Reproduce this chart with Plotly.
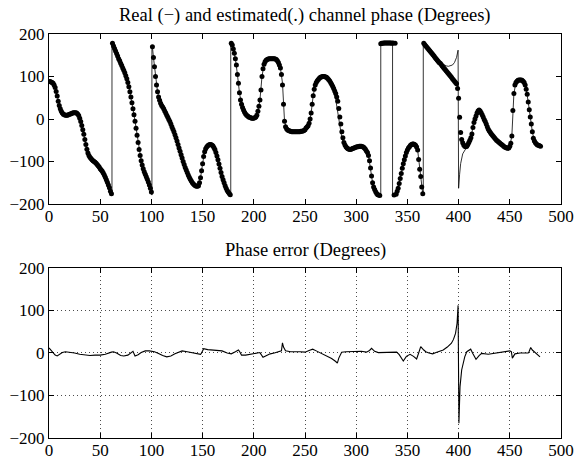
import plotly.graph_objects as go

# real channel phase (degrees) as (sample, value) points
real_pts = [
    (0, 88), (2, 87), (4, 84), (6, 74), (8, 54), (10, 32), (12, 18), (14, 11), (16, 9), (18, 9),
    (20, 11), (22, 13), (24, 15), (26, 15), (28, 12), (30, 2), (32, -15), (34, -36), (36, -60), (38, -80),
    (40, -90), (42, -96), (44, -100), (46, -104), (48, -110), (50, -117), (52, -123), (54, -132), (56, -143),
    (58, -155), (60, -170), (61, -176), (61.5, -178), (61.5, 179), (62, 178), (64, 166), (66, 154), (68, 142),
    (70, 131), (72, 120), (74, 109), (76, 95), (78, 76), (80, 52), (82, 24), (84, -5), (86, -38), (88, -72),
    (90, -98), (92, -117), (94, -130), (96, -142), (98, -155), (100, -172), (100.5, -179), (100.5, 172),
    (101, 170), (102, 145), (104, 100), (106, 64), (108, 44), (110, 32), (112, 24), (114, 14), (116, 4),
    (118, -6), (120, -18), (122, -30), (124, -44), (126, -60), (128, -76), (130, -92), (132, -107), (134, -120),
    (136, -132), (138, -142), (140, -150), (142, -155), (144, -158), (146, -157), (148, -138), (150, -105),
    (152, -77), (154, -66), (156, -61), (158, -60), (160, -63), (162, -72), (164, -87), (166, -106), (168, -126),
    (170, -143), (172, -157), (174, -168), (176, -175), (177, -178), (177.5, -179), (177.5, 179), (178, 178),
    (180, 165), (182, 142), (184, 105), (186, 62), (188, 35), (190, 21), (192, 12), (194, 7), (196, 4), (198, 2),
    (200, 2), (202, 5), (204, 18), (206, 45), (208, 100), (210, 129), (212, 138), (214, 141), (216, 142),
    (218, 142), (220, 142), (222, 140), (224, 133), (226, 120), (228, 85), (230, -5), (232, -23), (234, -27),
    (236, -29), (238, -30), (240, -30), (242, -30), (244, -30), (246, -29), (248, -28), (250, -25), (252, -19),
    (254, -10), (256, 14), (258, 55), (260, 80), (262, 90), (264, 96), (266, 99), (268, 100), (270, 98),
    (272, 94), (274, 86), (276, 76), (278, 64), (280, 46), (282, 18), (284, -15), (286, -45), (288, -60),
    (290, -67), (292, -70), (294, -72), (296, -70), (298, -68), (300, -66), (302, -65), (304, -64), (306, -65),
    (308, -68), (310, -75), (312, -86), (314, -115), (316, -150), (318, -166), (320, -175), (322, -179),
    (324, -180), (324, 180), (326, 180), (328, 180), (330, 180), (332, 180), (334, 180), (335.5, 180),
    (335.5, -180), (338, -176), (340, -170), (342, -152), (344, -128), (346, -105), (348, -87), (350, -73),
    (352, -65), (354, -60), (356, -59), (358, -62), (360, -73), (362, -118), (364, -160), (365, -176),
    (365.5, -179), (365.5, 179), (366, 178), (368, 172), (370, 166), (372, 161), (374, 156), (376, 150),
    (378, 145), (380, 139), (382, 134), (384, 130), (386, 127), (388, 125), (390, 124), (392, 125), (394, 127),
    (396, 133), (398, 145), (399.5, 162), (400, -163), (401, -130), (402, -105), (404, -82), (406, -72),
    (408, -66), (410, -56), (412, -44), (414, -20), (416, 0), (418, 14), (420, 21), (422, 15), (424, 5),
    (426, -6), (428, -18), (430, -28), (432, -35), (434, -41), (436, -47), (438, -52), (440, -56), (442, -60),
    (444, -64), (446, -67), (448, -69), (450, -64), (452, -40), (454, 60), (456, 86), (458, 91), (460, 92),
    (462, 92), (464, 86), (466, 70), (468, 40), (470, 5), (472, -30), (474, -52), (476, -59), (478, -62),
    (480, -64),
]

# estimated phase (degrees), one value per sample 0..480
est_deg = [
    88, 88, 87, 86, 84, 80, 74, 65, 54, 42,                 # 0
    32, 24, 18, 14, 11, 10, 9, 9, 9, 10,                    # 10
    11, 12, 13, 14, 15, 15, 15, 14, 12, 8,                  # 20
    2, -6, -15, -25, -36, -48, -60, -71, -80, -86,          # 30
    -90, -93, -96, -98, -100, -102, -104, -107, -110, -113,  # 40
    -117, -120, -123, -127, -132, -137, -143, -149, -155, -162,  # 50
    -170, -176, 178, 172, 166, 160, 154, 148, 142, 137,     # 60
    131, 126, 120, 115, 109, 102, 95, 86, 76, 64,           # 70
    52, 38, 24, 10, -5, -22, -38, -55, -72, -86,            # 80
    -98, -108, -117, -124, -130, -136, -142, -148, -155, -163,  # 90
    -172, 170, 145, 123, 100, 80, 64, 52, 44, 37,           # 100
    32, 28, 24, 19, 14, 9, 4, -1, -6, -12,                  # 110
    -18, -24, -30, -37, -44, -52, -60, -68, -76, -84,       # 120
    -92, -100, -107, -114, -120, -126, -132, -137, -142, -146,  # 130
    -150, -153, -155, -157, -158, -158, -157, -150, -138, -122,  # 140
    -105, -88, -77, -70, -66, -63, -61, -60, -60, -61,      # 150
    -63, -67, -72, -79, -87, -96, -106, -116, -126, -135,   # 160
    -143, -150, -157, -163, -168, -172, -175, -178, 178, 174,  # 170
    165, 155, 142, 127, 105, 84, 62, 45, 35, 27,            # 180
    21, 16, 12, 9, 7, 5, 4, 3, 2, 2,                        # 190
    2, 3, 5, 9, 18, 30, 45, 68, 100, 118,                   # 200
    129, 135, 138, 140, 141, 142, 142, 142, 142, 142,       # 210
    142, 141, 140, 137, 133, 127, 120, 105, 80, 35,         # 220
    -5, -18, -23, -26, -27, -28, -29, -30, -30, -30,        # 230
    -30, -30, -30, -30, -30, -30, -29, -29, -28, -27,       # 240
    -25, -21, -19, -16, -10, 0, 14, 35, 55, 70,             # 250
    80, 86, 90, 93, 96, 98, 99, 100, 100, 100,              # 260
    99, 98, 96, 93, 90, 86, 82, 77, 72, 66,                 # 270
    60, 52, 42, 25, 5, -12, -30, -44, -55, -61,             # 280
    -65, -68, -70, -71, -72, -71, -70, -69, -68, -67,       # 290
    -66, -65, -65, -64, -64, -64, -65, -66, -68, -71,       # 300
    -75, -79, -86, -98, -115, -134, -150, -160, -166, -171,  # 310
    -175, -178, -179, -180, 177, 178, 178, 179, 179, 179,   # 320
    179, 179, 179, 179, 179, 178, 179, -179, 178, -177,     # 330
    -170, -163, -152, -140, -128, -116, -105, -96, -87, -79,  # 340
    -73, -68, -65, -62, -60, -59, -59, -60, -62, -66,       # 350
    -73, -95, -118, -135, -160, -176, 178, 175, 172, 169,   # 360
    166, 163, 160, 157, 154, 151, 148, 145, 142, 139,       # 370
    136, 133, 131, 128, 125, 122, 119, 116, 113, 110,       # 380
    107, 104, 101, 98, 95, 92, 89, 86, 83, 72,              # 390
    49, 4, -32, -48, -56, -61, -64, -65, -64, -60,          # 400
    -55, -50, -44, -35, -20, -8, 0, 7, 14, 19,              # 410
    21, 19, 15, 10, 5, -1, -6, -12, -18, -24,               # 420
    -28, -32, -35, -38, -41, -44, -47, -50, -52, -54,       # 430
    -56, -58, -60, -62, -64, -66, -67, -68, -69, -68,       # 440
    -64, -57, -40, 20, 60, 80, 86, 89, 91, 92,              # 450
    92, 92, 91, 89, 86, 80, 70, 58, 40, 22,                 # 460
    5, -12, -30, -45, -52, -56, -59, -61, -62, -63,         # 470
    -64,                                                    # 480
]

# phase error (degrees), read as (sample, value) points
err_pts = [
    (0, 12), (2, 6), (4, 0), (6, -5), (8, -7), (10, -4), (13, 1), (16, 3), (20, 2), (25, 0), (30, -3),
    (35, -5), (40, -6), (45, -5), (50, -5), (55, -3), (58, 0), (61, 2), (63, 3), (66, 0), (70, -6), (73, -7),
    (77, -5), (79, -1), (81, 3), (82, 4), (84, -7), (87, -4), (90, 1), (94, 5), (98, 5), (103, 3), (107, -1),
    (111, -6), (115, -9), (119, -7), (123, -2), (127, 3), (130, 5), (135, 3), (140, 1), (145, -2), (148, -3),
    (149, 0), (151, 10), (155, 8), (160, 7), (165, 5), (169, 5), (174, 0), (178, -2), (182, 3), (185, 7),
    (186, 4), (188, -5), (192, -5), (198, -2), (204, 1), (206, 1), (209, -10), (212, -6), (216, -2), (220, 0),
    (225, 3), (227, 5), (228, 24), (229, 14), (231, 5), (236, 3), (245, 3), (250, 2), (254, 6), (257.5, 9),
    (261, 5), (265, 0), (268, -2), (272, -7), (276, -13), (280, -20), (281.6, -24), (283, -12), (285.8, 2),
    (290, 3), (296, 4), (300.5, 5), (305, 4), (310, 2), (313, 6), (315, 11), (318, 4), (321.6, 1), (330, 1),
    (339.5, 2), (342, -4), (346, -19), (349, -8), (352.6, -3), (356, -8), (359, -14), (361, 0), (363, 15),
    (366, 7), (368, 3), (371, 0), (374.7, -2), (378, 1), (382, 4), (385, 7), (389, 14), (393, 23), (395, 32),
    (397, 46), (398.5, 70), (399.5, 112), (400.3, -165), (401.4, -79), (403, -40), (406, -9), (408, 3),
    (411.8, 9), (414, -2), (417, -15), (420, -6), (422.5, -1), (429, -3), (435, -1), (440, 0), (446, 3),
    (450, 5), (451.5, 3), (452.5, -12), (455, -2), (460, 0), (465, 0), (468, 0), (469, 4), (470.4, 13),
    (472, 7), (474.6, 1), (477, -4), (479.5, -9),
]

x_ticks = [0, 50, 100, 150, 200, 250, 300, 350, 400, 450, 500]
y_ticks = [-200, -100, 0, 100, 200]

top_title = "Real (\u2212) and estimated(.) channel phase (Degrees)"
bottom_title = "Phase error (Degrees)"

FONT = "Liberation Serif, Times New Roman, serif"
TICK_FS = 17
TITLE_FS = 18.5

real_t = [p[0] for p in real_pts]
real_v = [p[1] for p in real_pts]
est_t = list(range(len(est_deg)))
err_t = [p[0] for p in err_pts]
err_v = [p[1] for p in err_pts]

fig = go.Figure()

fig.add_trace(go.Scatter(x=real_t, y=real_v, mode="lines",
                         line=dict(color="black", width=0.8),
                         xaxis="x", yaxis="y", showlegend=False))
fig.add_trace(go.Scatter(x=est_t, y=est_deg, mode="markers",
                         marker=dict(color="black", size=5, line=dict(width=0)),
                         xaxis="x", yaxis="y", showlegend=False))
fig.add_trace(go.Scatter(x=err_t, y=err_v, mode="lines",
                         line=dict(color="black", width=1.1),
                         xaxis="x2", yaxis="y2", showlegend=False))

axis_common = dict(
    ticks="inside", ticklen=5, tickwidth=1, tickcolor="black",
    showline=True, linecolor="black", linewidth=1, mirror="ticks",
    zeroline=False, automargin=False,
    tickfont=dict(family=FONT, size=TICK_FS, color="black"),
)
x_extra = dict(ticklabelposition="outside", ticklabelstandoff=-3)
grid_style = dict(showgrid=True, gridcolor="rgba(0,0,0,0.7)", griddash="1px,3px", gridwidth=0.8)

# the page body adds an 8px offset, so left/top margins are 8px smaller
fig.update_layout(
    template="none",
    width=584, height=457,
    margin=dict(l=41, r=31, t=26, b=27),
    paper_bgcolor="white", plot_bgcolor="white",
    font=dict(family=FONT, size=TICK_FS, color="black"),
    xaxis=dict(domain=[0, 1], anchor="y", range=[0, 500], tickvals=x_ticks,
               showgrid=False, **x_extra, **axis_common),
    yaxis=dict(domain=[0.5792, 1], anchor="x", range=[-200, 200], tickvals=y_ticks,
               showgrid=False, **axis_common),
    xaxis2=dict(domain=[0, 1], anchor="y2", range=[0, 500], tickvals=x_ticks,
                **x_extra, **grid_style, **axis_common),
    yaxis2=dict(domain=[0, 0.4208], anchor="x2", range=[-200, 200], tickvals=y_ticks,
                **grid_style, **axis_common),
    annotations=[
        dict(text=top_title, x=0.5, y=1.047, xref="paper", yref="paper",
             xanchor="center", yanchor="middle", showarrow=False,
             font=dict(family=FONT, size=TITLE_FS, color="black")),
        dict(text=bottom_title, x=0.5, y=0.4653, xref="paper", yref="paper",
             xanchor="center", yanchor="middle", showarrow=False,
             font=dict(family=FONT, size=TITLE_FS, color="black")),
    ],
)

fig.write_html("out.html")
